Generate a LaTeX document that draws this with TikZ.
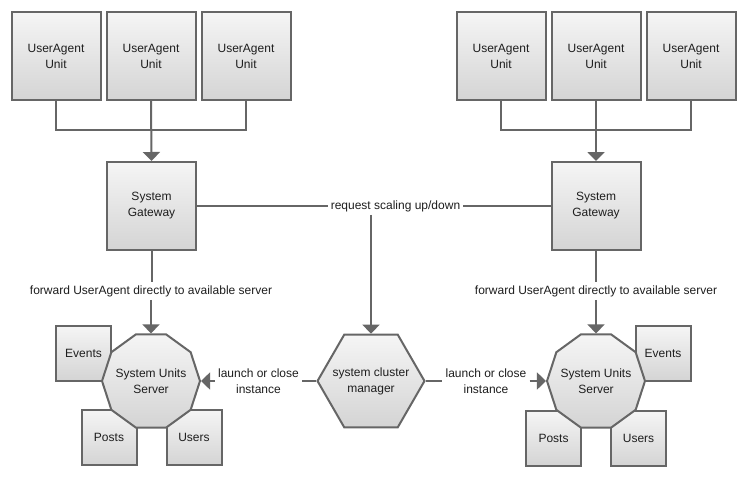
\documentclass[tikz,border=0pt]{standalone}
\usepackage{fontspec}
\setmainfont{Liberation Sans}
\usetikzlibrary{arrows.meta,shapes.geometric}
\definecolor{edge}{HTML}{666666}
\definecolor{topc}{HTML}{F5F5F5}
\definecolor{botc}{HTML}{D4D4D4}
\definecolor{txt}{HTML}{1E1E1E}
\tikzset{
  shadedfill/.style={draw=edge, line width=2pt, top color=topc, bottom color=botc, text=txt,
     font=\fontsize{12}{16}\selectfont, align=center, inner sep=0pt},
  bigbox/.style={shadedfill, rectangle, minimum width=89pt, minimum height=88pt},
  smallbox/.style={shadedfill, rectangle, minimum width=55pt, minimum height=55pt},
  intext/.style={text=txt, font=\fontsize{12}{16}\selectfont, align=center, inner sep=0pt},
  decagon/.style={shadedfill, regular polygon, regular polygon sides=10, minimum size=98pt},
  hexagon/.style={shadedfill, regular polygon, regular polygon sides=6, minimum size=107pt},
  lbl/.style={text=txt, font=\fontsize{12}{16}\selectfont, align=center, inner sep=3pt},
  conn/.style={draw=edge, line width=2pt},
  arr/.style={conn, -{Triangle[width=17pt,length=9pt]}},
}
\begin{document}
\begin{tikzpicture}[x=1pt,y=-1pt]
\useasboundingbox[fill=white] (0,0) rectangle (747,477);

% left column
\node[bigbox] (ua1) at (56,56) {UserAgent\\Unit};
\node[bigbox] (ua2) at (151,56) {UserAgent\\Unit};
\node[bigbox] (ua3) at (246,56) {UserAgent\\Unit};
\node[bigbox] (gw1) at (151.5,206) {System\\Gateway};
\coordinate (bus1) at (151,130);

% right column
\node[bigbox] (ua4) at (501,56) {UserAgent\\Unit};
\node[bigbox] (ua5) at (596,56) {UserAgent\\Unit};
\node[bigbox] (ua6) at (691,56) {UserAgent\\Unit};
\node[bigbox] (gw2) at (596,206) {System\\Gateway};
\coordinate (bus2) at (596,130);

% small boxes left
\node[smallbox] (ev1) at (83.5,353) {Events};
\node[smallbox] (po1) at (109,437.5) {Posts};
\node[smallbox] (us1) at (194,437.5) {Users};
% small boxes right
\node[smallbox] (ev2) at (663,353.5) {Events};
\node[smallbox] (po2) at (553.5,438.5) {Posts};
\node[smallbox] (us2) at (638.5,438.5) {Users};

% servers
\node[decagon, label={[intext]center:System Units\\Server}] (dec1) at (151,381) {};
\node[decagon, label={[intext]center:System Units\\Server}] (dec2) at (596,381) {};
\node[hexagon, label={[intext]center:system cluster\\manager}] (hex) at (371,381) {};

% labels
\node[lbl] (fw1) at (151,291) {forward UserAgent directly to available server};
\node[lbl] (fw2) at (596,291) {forward UserAgent directly to available server};
\node[lbl] (req) at (395.5,206) {request scaling up/down};
\node[lbl] (lc1) at (258.5,381) {launch or close\\instance};
\node[lbl] (lc2) at (486,381) {launch or close\\instance};

% connectors
\draw[conn] (ua1.south) |- (bus1) -| (ua3.south);
\draw[arr] (ua2.south) -- (gw1.north);
\draw[conn] (ua4.south) |- (bus2) -| (ua6.south);
\draw[arr] (ua5.south) -- (gw2.north);

\draw[conn] (gw1.south) -- (fw1.north -| gw1.south);
\draw[arr] (fw1.south -| dec1.north) -- (dec1.north);
\draw[conn] (gw2.south) -- (fw2.north -| gw2.south);
\draw[arr] (fw2.south -| dec2.north) -- (dec2.north);

\draw[conn] (gw1.east) -- (req.west);
\draw[conn] (req.east) -- (gw2.west);
\draw[arr] (req.south -| hex.north) -- (hex.north);

\draw[conn] (hex.west) -- (lc1.east);
\draw[arr] (lc1.west) -- (dec1.east);
\draw[conn] (hex.east) -- (lc2.west);
\draw[arr] (lc2.east) -- (dec2.west);
\end{tikzpicture}
\end{document}
